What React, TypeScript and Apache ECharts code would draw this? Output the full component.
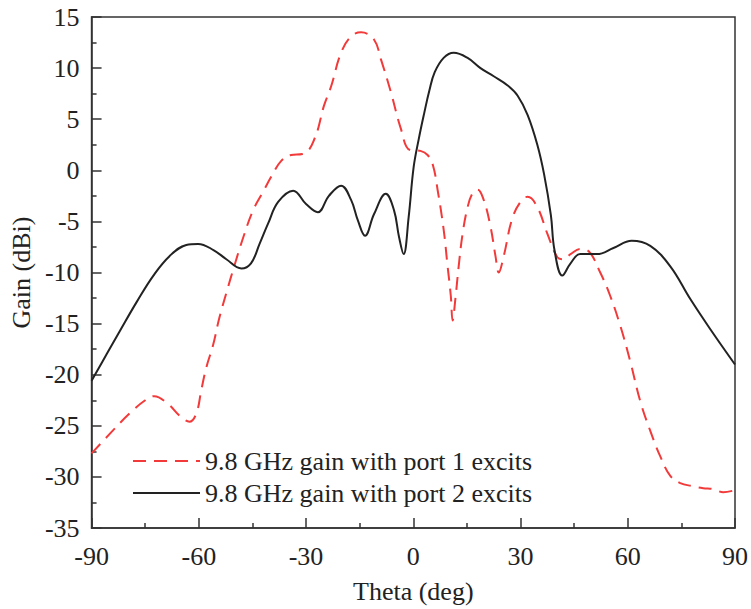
import React, { useEffect, useRef } from "react";
import * as echarts from "echarts";

const port1Theta = [-90, -84.4, -79.4, -75, -72.5, -68.5, -65.4, -62.6, -60.7, -59.3, -57.9, -56, -54.3, -52.3, -50.1, -47.6, -44.8, -42, -39.7, -37, -34.2, -31, -29.2, -27.5, -26.6, -25, -23, -20.2, -17.4, -14.6, -11, -9, -6.3, -3.5, -1, 2, 4, 5.5, 6.8, 8.5, 9.6, 10.5, 11, 11.8, 12.7, 13.8, 15.2, 16.5, 18, 19.7, 21.6, 23, 23.9, 25.3, 27.8, 30.6, 32, 34.7, 37.5, 40.3, 42, 44, 46.7, 49, 52.3, 55.1, 57.9, 60.7, 63.5, 66.3, 69.1, 71.9, 74.7, 78, 81.1, 84, 86.7, 90];
const port1Gain = [-27.7, -25.6, -23.8, -22.5, -22.1, -22.9, -24.0, -24.6, -23.8, -21.5, -19.3, -17.1, -14.5, -12.0, -9.4, -6.6, -3.9, -2.1, -0.6, 0.9, 1.5, 1.6, 2.0, 3.2, 4.1, 6.3, 8.2, 11.5, 13.1, 13.5, 12.8, 10.8, 7.7, 4.1, 2.0, 1.9, 1.5, 0.5, -1.9, -5.8, -9.4, -12.3, -14.7, -12.5, -9.4, -6.2, -3.6, -2.3, -1.9, -2.9, -5.5, -8.4, -10.0, -8.4, -4.6, -2.8, -2.6, -3.6, -6.2, -8.5, -8.7, -8.2, -7.7, -7.9, -10, -12.3, -15.2, -18.7, -22.6, -25.5, -28, -29.9, -30.6, -30.9, -31.1, -31.2, -31.5, -31.3];

const port2Theta = [-90, -85.8, -82.2, -77.4, -72.7, -68.2, -63.5, -60.2, -55.9, -52.3, -48.1, -45.4, -43, -40.6, -37.8, -33.6, -30, -26.7, -23.6, -20.2, -17.4, -15.5, -13.5, -11, -7.7, -5.4, -4, -2.7, -1.3, 0.1, 1.5, 3, 4.5, 6, 8.5, 11.3, 15.2, 18.8, 22.5, 26.4, 29.2, 32, 34.7, 36.6, 38.5, 39.5, 41.7, 44, 46.7, 51.4, 56, 61.1, 66.3, 71.9, 77.5, 83, 90];
const port2Gain = [-20.6, -18, -15.8, -12.9, -10.3, -8.4, -7.3, -7.2, -7.8, -8.7, -9.6, -9.1, -7.2, -5.2, -3.1, -2.0, -3.3, -4.1, -2.5, -1.5, -2.9, -4.9, -6.4, -4.3, -2.3, -3.9, -6.5, -8.2, -4.6, 0.3, 3.0, 5.5, 7.8, 9.6, 11.0, 11.5, 11.0, 10.0, 9.2, 8.3, 7.3, 5.4, 2.5, -0.4, -4.4, -7.8, -10.3, -9.1, -8.2, -8.2, -7.6, -6.9, -7.4, -9.4, -12.6, -15.5, -19];

const seriesNames = ["9.8 GHz gain with port 1 excits", "9.8 GHz gain with port 2 excits"];
const FONT = "'Liberation Serif', 'Times New Roman', serif";

export default function App() {
  const ref = useRef<HTMLDivElement>(null);
  useEffect(() => {
    if (!ref.current) return;
    const chart = echarts.init(ref.current, undefined, { renderer: "svg" });
    const zip = (xs: number[], ys: number[]) => xs.map((x, i) => [x, ys[i]]);
    const axisCommon = {
      axisLine: { show: true, onZero: false, lineStyle: { color: "#333", width: 1.5 } },
      axisTick: { show: true, inside: true, length: 10, lineStyle: { color: "#333", width: 1.5 } },
      minorTick: { show: true, splitNumber: 2, length: 5, lineStyle: { color: "#333", width: 1.5 } },
      splitLine: { show: false },
      nameTextStyle: { color: "#222", fontFamily: FONT, fontSize: 26 },
    };
    chart.setOption({
      animation: false,
      backgroundColor: "#fff",
      textStyle: { fontFamily: FONT },
      grid: { left: 90, right: 16, top: 17, bottom: 73, show: true, borderColor: "#333", borderWidth: 1.5, backgroundColor: "transparent" },
      legend: {
        orient: "vertical",
        left: 127,
        top: 443,
        itemWidth: 67,
        itemHeight: 26,
        itemGap: 6,
        itemStyle: { opacity: 0 },
        textStyle: { color: "#222", fontFamily: FONT, fontSize: 26 },
        data: seriesNames,
      },
      xAxis: {
        type: "value",
        min: -90,
        max: 90,
        interval: 30,
        name: "Theta (deg)",
        nameLocation: "middle",
        nameGap: 50,
        axisLabel: { color: "#222", fontFamily: FONT, fontSize: 26, margin: 15 },
        ...axisCommon,
      },
      yAxis: {
        type: "value",
        min: -35,
        max: 15,
        interval: 5,
        name: "Gain (dBi)",
        nameLocation: "middle",
        nameGap: 52,
        axisLabel: { color: "#222", fontFamily: FONT, fontSize: 26, margin: 12 },
        ...axisCommon,
      },
      series: [
        {
          name: seriesNames[0],
          type: "line",
          data: zip(port1Theta, port1Gain),
          smooth: 0.4,
          symbol: "none",
          lineStyle: { color: "#f23a3a", width: 2, type: [13, 8] },
          itemStyle: { color: "#f23a3a" },
        },
        {
          name: seriesNames[1],
          type: "line",
          data: zip(port2Theta, port2Gain),
          smooth: 0.4,
          symbol: "none",
          lineStyle: { color: "#222", width: 2 },
          itemStyle: { color: "#222" },
        },
      ],
    });
    return () => chart.dispose();
  }, []);
  return <div ref={ref} style={{ position: "absolute", left: 0, top: 0, width: 751, height: 609 }} />;
}
